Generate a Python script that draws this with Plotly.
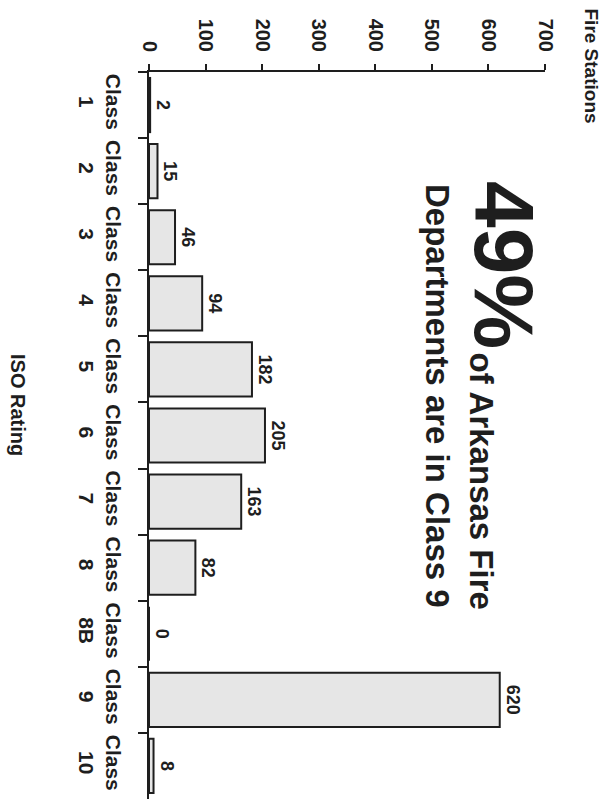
import plotly.graph_objects as go

# ISO rating classes and number of fire stations in each
iso_classes = ["1", "2", "3", "4", "5", "6", "7", "8", "8B", "9", "10"]
fire_stations = [2, 15, 46, 94, 182, 205, 163, 82, 0, 620, 8]
value_ticks = [0, 100, 200, 300, 400, 500, 600, 700]

category_labels = [f"Class<br>{c}" for c in iso_classes]

FONT = "Liberation Sans, Arial, Helvetica, sans-serif"
INK = "#1e1e1e"

W, H = 611, 799
L, R, T, B = 149, 66, 72, 0
PW, PH = W - L - R, H - T - B


def px(x):
    return (x - L) / PW


def py(y):
    return 1 - (y - T) / PH


fig = go.Figure(
    go.Bar(
        y=category_labels,
        x=fire_stations,
        orientation="h",
        marker=dict(color="#e6e6e6", line=dict(color=INK, width=2)),
        text=[str(v) for v in fire_stations],
        textposition="outside",
        textangle=90,
        constraintext="none",
        cliponaxis=False,
        textfont=dict(family=FONT, size=18, color=INK, weight="bold"),
        hoverinfo="skip",
    )
)

fig.update_layout(
    width=W,
    height=H,
    margin=dict(l=L, r=R, t=T, b=B),
    paper_bgcolor="white",
    plot_bgcolor="white",
    bargap=0.18,
    showlegend=False,
    font=dict(family=FONT, color=INK),
    xaxis=dict(
        side="top",
        range=[0, 700],
        tickvals=value_ticks,
        ticktext=[str(v) for v in value_ticks],
        tickangle=90,
        ticks="outside",
        ticklen=6,
        tickwidth=2,
        tickcolor=INK,
        showline=True,
        linecolor=INK,
        linewidth=2,
        showgrid=False,
        zeroline=False,
        ticklabelstandoff=5,
        tickfont=dict(family=FONT, size=20, color=INK, weight="bold"),
    ),
    yaxis=dict(
        categoryorder="array",
        categoryarray=category_labels,
        autorange="reversed",
        tickangle=90,
        ticks="outside",
        tickson="boundaries",
        ticklen=9,
        tickwidth=2,
        tickcolor=INK,
        showline=True,
        linecolor=INK,
        linewidth=2,
        showgrid=False,
        zeroline=False,
        ticklabelstandoff=16,
        tickfont=dict(family=FONT, size=21, color=INK, weight="bold"),
    ),
)

annotations = [
    # headline figure
    dict(text="49%", x=px(504), y=py(179), xanchor="center", yanchor="top",
         font=dict(size=84, weight="bold")),
    dict(text="of Arkansas Fire", x=px(481), y=py(350), xanchor="center", yanchor="top",
         font=dict(size=33, weight="bold")),
    dict(text="Departments are in Class 9", x=px(438), y=py(182), xanchor="center", yanchor="top",
         font=dict(size=33, weight="bold")),
    # axis titles
    dict(text="Fire Stations", x=px(591), y=py(6), xanchor="center", yanchor="top",
         font=dict(size=19, weight="bold")),
    dict(text="ISO Rating", x=px(18), y=py(405), xanchor="center", yanchor="middle",
         font=dict(size=20, weight="bold")),
]
for a in annotations:
    a.update(xref="paper", yref="paper", textangle=90, showarrow=False)
    a["font"].update(family=FONT, color=INK)
fig.update_layout(annotations=annotations)

fig.write_html("out.html")
